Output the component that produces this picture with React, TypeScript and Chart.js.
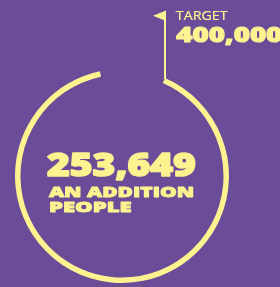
import React, { useEffect, useRef } from "react";
import { Chart, registerables } from "chart.js";

Chart.register(...registerables);

// ---- data ----
const segmentLabels = ["Reached", "Remaining"];
const segmentValues = [90.1, 9.9];
const achievedValue = "253,649";
const achievedLines = ["AN ADDITION", "PEOPLE"];
const targetLabel = "TARGET";
const targetValue = "400,000";

const PURPLE = "#6a4c98";
const YELLOW = "#fcf290";
const FONT = "'Open Sans', 'DejaVu Sans', sans-serif";

function fitText(ctx: CanvasRenderingContext2D, text: string, x: number, y: number, w: number, font: string, stroke = 0) {
  ctx.font = font;
  const m = ctx.measureText(text).width;
  ctx.save();
  ctx.translate(x, y);
  ctx.scale((w - stroke) / m, 1);
  ctx.textAlign = "left";
  ctx.textBaseline = "alphabetic";
  ctx.fillText(text, stroke / 2, 0);
  if (stroke > 0) {
    ctx.lineWidth = stroke;
    ctx.lineJoin = "round";
    ctx.strokeText(text, stroke / 2, 0);
  }
  ctx.restore();
}

const overlayPlugin = {
  id: "overlay",
  afterDraw(chart: any) {
    const ctx: CanvasRenderingContext2D = chart.ctx;
    const meta = chart.getDatasetMeta(0);
    const arc = meta.data[0];
    if (!arc) return;
    const { x, y, outerRadius, startAngle } = arc.getProps(["x", "y", "outerRadius", "startAngle"], true);
    const px = x + outerRadius * Math.cos(startAngle);
    const py = y + outerRadius * Math.sin(startAngle);
    ctx.save();
    ctx.fillStyle = YELLOW;
    ctx.strokeStyle = YELLOW;
    // pole
    ctx.lineWidth = 2;
    ctx.beginPath();
    ctx.moveTo(px, py + 1);
    ctx.lineTo(px, 11);
    ctx.stroke();
    // flag
    ctx.beginPath();
    ctx.moveTo(px + 1, 10.5);
    ctx.lineTo(px - 12, 15.7);
    ctx.lineTo(px + 1, 21);
    ctx.closePath();
    ctx.fill();
    // target text
    fitText(ctx, targetLabel, 175.7, 20, 52, `500 12px ${FONT}`, 0.2);
    fitText(ctx, targetValue, 175.7, 42.3, 107, `800 21px ${FONT}`, 1);
    // center text
    fitText(ctx, achievedValue, 46, 176, 150.5, `800 31px ${FONT}`, 1.5);
    fitText(ctx, achievedLines[0], 48.3, 197.3, 146, `800 14px ${FONT}`, 0.8);
    fitText(ctx, achievedLines[1], 48.3, 211.7, 83.5, `800 14px ${FONT}`, 0.8);
    ctx.restore();
  },
};

export default function App() {
  const ref = useRef<HTMLCanvasElement>(null);
  useEffect(() => {
    if (!ref.current) return;
    const chart = new Chart(ref.current, {
      type: "doughnut",
      data: {
        labels: segmentLabels,
        datasets: [
          {
            data: segmentValues,
            backgroundColor: [YELLOW, "rgba(0,0,0,0)"],
            borderWidth: 0,
          },
        ],
      },
      options: {
        responsive: false,
        maintainAspectRatio: false,
        animation: false,
        events: [],
        rotation: 23.7,
        cutout: 101.5,
        layout: { padding: { left: 15, right: 51, top: 69, bottom: 4 } },
        plugins: { legend: { display: false }, tooltip: { enabled: false } },
      },
      plugins: [overlayPlugin],
    } as any);
    return () => chart.destroy();
  }, []);
  return (
    <div style={{ position: "absolute", left: 0, top: 0, width: 280, height: 287, background: PURPLE, overflow: "hidden" }}>
      <canvas ref={ref} width={280} height={287} style={{ display: "block", width: 280, height: 287 }} />
    </div>
  );
}
